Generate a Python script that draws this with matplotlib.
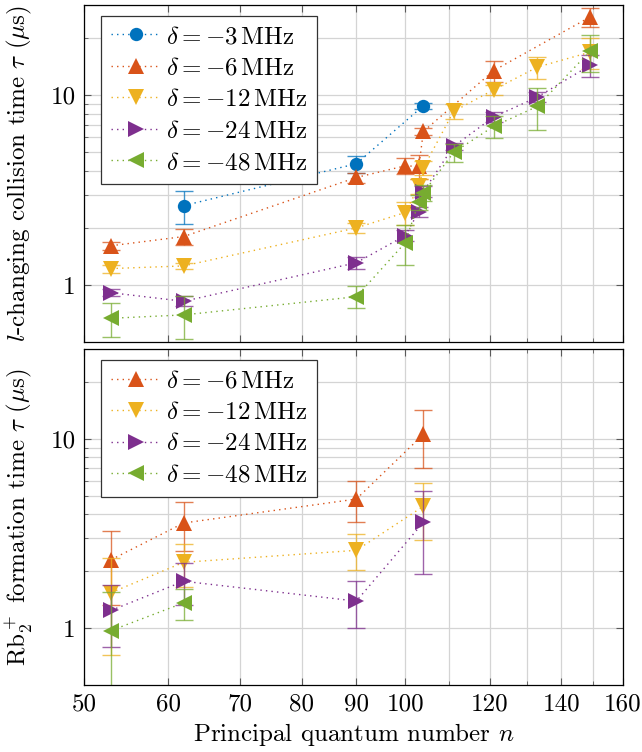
import matplotlib
matplotlib.use('Agg')
import matplotlib.pyplot as plt
from matplotlib.ticker import FixedLocator, NullFormatter

plt.rcParams['font.family'] = ['cmr10', 'DejaVu Serif']
plt.rcParams['mathtext.fontset'] = 'cm'
plt.rcParams['axes.formatter.use_mathtext'] = True
plt.rcParams['font.size'] = 18

# colours (MATLAB default order)
c_blue = '#0072BD'
c_orange = '#D95319'
c_yellow = '#EDB120'
c_purple = '#7E2F8E'
c_green = '#77AC30'

# ---- top panel: l-changing collision time ----
n_3 = [62, 90, 104]
tau_3 = [2.62, 4.36, 8.82]
err_3 = [0.52, 0.45, 0.3]

n_6 = [53, 62, 90, 100, 103, 104, 121, 149]
tau_6 = [1.61, 1.80, 3.69, 4.25, 4.22, 6.45, 13.5, 25.9]
err_6 = [0.08, 0.17, 0.22, 0.40, 0.6, 0.25, 1.7, 2.85]

n_12 = [53, 62, 90, 100, 103, 104, 111, 121, 133, 149]
tau_12 = [1.22, 1.26, 2.0, 2.41, 3.31, 4.14, 8.23, 10.7, 14.1, 16.9]
err_12 = [0.06, 0.05, 0.12, 0.33, 0.3, 0.35, 0.75, 0.65, 1.9, 3.2]

n_24 = [53, 62, 90, 100, 103, 104, 111, 121, 133, 149]
tau_24 = [0.91, 0.82, 1.31, 1.82, 2.44, 3.11, 5.38, 7.69, 9.8, 14.4]
err_24 = [0.04, 0.05, 0.1, 0.12, 0.15, 0.2, 0.25, 0.45, 0.6, 1.9]

n_48 = [53, 62, 90, 100, 103, 104, 111, 121, 133, 149]
tau_48 = [0.667, 0.695, 0.867, 1.67, 2.75, 3.06, 5.0, 6.86, 8.75, 17.1]
err_48 = [0.135, 0.175, 0.115, 0.39, 0.25, 0.3, 0.57, 0.9, 2.15, 3.8]

# ---- bottom panel: Rb2+ formation time ----
nb = [53, 62, 90, 104]
rb_6 = [2.30, 3.6, 4.82, 10.6]
rb_err_6 = [0.97, 1.05, 1.18, 3.6]
rb_12 = [1.54, 2.23, 2.58, 4.41]
rb_err_12 = [0.82, 0.57, 0.56, 1.48]
rb_24 = [1.24, 1.77, 1.39, 3.63]
rb_err_24 = [0.45, 0.45, 0.39, 1.7]
nb_48 = [53, 62]
rb_48 = [0.97, 1.36]
rb_err_48 = [0.58, 0.25]

xticks = [50, 60, 70, 80, 90, 100, 120, 140, 160]
xminor = [110, 130, 150]
yticks = [1, 10]
yminor = [2, 3, 4, 5, 6, 7, 8, 9, 20, 30]

top_series = [
    (n_3, tau_3, err_3, c_blue, 'o', r'$\delta = -3\,\mathrm{MHz}$'),
    (n_6, tau_6, err_6, c_orange, '^', r'$\delta = -6\,\mathrm{MHz}$'),
    (n_12, tau_12, err_12, c_yellow, 'v', r'$\delta = -12\,\mathrm{MHz}$'),
    (n_24, tau_24, err_24, c_purple, '>', r'$\delta = -24\,\mathrm{MHz}$'),
    (n_48, tau_48, err_48, c_green, '<', r'$\delta = -48\,\mathrm{MHz}$'),
]
bottom_series = [
    (nb, rb_6, rb_err_6, c_orange, '^', r'$\delta = -6\,\mathrm{MHz}$'),
    (nb, rb_12, rb_err_12, c_yellow, 'v', r'$\delta = -12\,\mathrm{MHz}$'),
    (nb, rb_24, rb_err_24, c_purple, '>', r'$\delta = -24\,\mathrm{MHz}$'),
    (nb_48, rb_48, rb_err_48, c_green, '<', r'$\delta = -48\,\mathrm{MHz}$'),
]

fig = plt.figure(figsize=(6.42, 7.52), dpi=100)
ax1 = fig.add_axes([0.1308, 0.5452, 0.8396, 0.4482])
ax2 = fig.add_axes([0.1308, 0.0891, 0.8396, 0.4468])


def draw(ax, series):
    for n, t, e, col, mk, lab in series:
        ax.errorbar(n, t, yerr=e, fmt='none', ecolor=col, elinewidth=1.0,
                    capsize=6.5, capthick=1.0, alpha=0.75)
        ms = 9.6 if mk == 'o' else 12
        ax.plot(n, t, color=col, ls=(0, (1, 3)), lw=1.0, marker=mk,
                markersize=ms, markeredgewidth=0, label=lab)
    ax.set_xscale('log')
    ax.set_yscale('log')
    ax.set_xlim(50, 160)
    ax.set_ylim(0.5, 30)
    ax.xaxis.set_major_locator(FixedLocator(xticks))
    ax.xaxis.set_minor_locator(FixedLocator(xminor))
    ax.yaxis.set_major_locator(FixedLocator(yticks))
    ax.yaxis.set_minor_locator(FixedLocator(yminor))
    ax.xaxis.set_minor_formatter(NullFormatter())
    ax.yaxis.set_minor_formatter(NullFormatter())
    ax.set_yticklabels([str(v) for v in yticks])
    ax.grid(True, which='both', color='#d4d4d4', lw=0.9)
    ax.set_axisbelow(True)
    ax.tick_params(which='both', direction='in', top=True, right=True,
                   color='#5a5a5a', labelsize=18, pad=6)
    ax.tick_params(which='major', length=5)
    ax.tick_params(which='minor', length=3)
    for s in ax.spines.values():
        s.set_linewidth(0.9)
    leg = ax.legend(loc='upper left', bbox_to_anchor=(0.0315, 0.968),
                    borderaxespad=0, fancybox=False, framealpha=1,
                    edgecolor='#333333', numpoints=1, handlelength=2.0,
                    fontsize=18, labelspacing=0.36, handletextpad=0.2,
                    borderpad=0.4)
    leg.get_frame().set_linewidth(0.9)


draw(ax1, top_series)
draw(ax2, bottom_series)

ax1.set_xticklabels([])
ax2.set_xticklabels([str(v) for v in xticks])

ax1.set_ylabel(r'$l$-changing collision time $\tau$ ($\mu$s)', fontsize=18)
ax2.set_ylabel(r'Rb$_2^+$ formation time $\tau$ ($\mu$s)', fontsize=18)
ax2.set_xlabel(r'Principal quantum number $n$', fontsize=18)
ax1.yaxis.set_label_coords(-0.093, 0.5)
ax2.yaxis.set_label_coords(-0.093, 0.5)

fig.savefig('out.png', dpi=100)
